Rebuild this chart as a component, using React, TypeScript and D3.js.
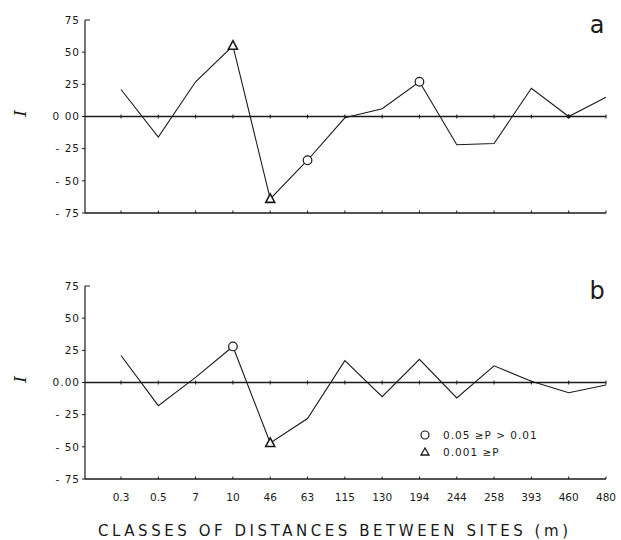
import * as d3 from "d3"

const classes = ["0.3", "0.5", "7", "10", "46", "63", "115", "130", "194", "244", "258", "393", "460", "480"]
const valuesA = [21, -16, 27, 55, -64, -34, -1, 6, 27, -22, -21, 22, 0, 15]
const valuesB = [21, -18, 4, 28, -47, -28, 17, -11, 18, -12, 13, 1, -8, -2]
const yTicks = [75, 50, 25, 0, -25, -50, -75]
const yLabelsA = ["75", "50", "25", "0 00", "- 25", "- 50", "- 75"]
const yLabelsB = ["75", "50", "25", "0.00", "- 25", "- 50", "- 75"]
// significance markers: class label -> kind
const marksA: [string, string][] = [["10", "tri"], ["46", "tri"], ["63", "circ"], ["194", "circ"], ["460", "dot"]]
const marksB: [string, string][] = [["10", "circ"], ["46", "tri"]]

const W = 621
const H = 540
const left = 85
const ink = "#1a1a1a"
const font = "'DejaVu Sans', sans-serif"

const x = d3.scalePoint<string>().domain(classes).range([121, 606]).padding(0)

function Panel({ top, bottom, values, labels, marks, letter }: {
  top: number
  bottom: number
  values: number[]
  labels: string[]
  marks: [string, string][]
  letter: string
}) {
  const y = d3.scaleLinear().domain([-75, 75]).range([bottom, top])
  const line = d3
    .line<number>()
    .x((_, i) => x(classes[i]) as number)
    .y((d) => y(d))
  const right = x(classes[classes.length - 1]) as number
  const tri = (cx: number, cy: number) => `M${cx},${cy - 5}L${cx + 4.5},${cy + 3.5}L${cx - 4.5},${cy + 3.5}Z`

  return (
    <g>
      {/* y axis */}
      <line x1={left} x2={left} y1={y(75)} y2={y(-75)} stroke={ink} strokeWidth={1.2} />
      {yTicks.map((t, i) => (
        <g key={t}>
          <line x1={t === 75 ? left : left - 3} x2={t === 75 ? left + 5 : left} y1={y(t)} y2={y(t)} stroke={ink} strokeWidth={1} />
          <text x={80} y={y(t)} dy="0.35em" textAnchor="end" fontSize={10.5} fontFamily={font} letterSpacing={1} fill={ink}>
            {labels[i]}
          </text>
        </g>
      ))}
      {/* zero line */}
      <line x1={left} x2={right} y1={y(0)} y2={y(0)} stroke={ink} strokeWidth={1.4} />
      {/* bottom line */}
      <line x1={left} x2={right} y1={y(-75)} y2={y(-75)} stroke={ink} strokeWidth={1.5} />
      {classes.map((c) => (
        <g key={c}>
          <line x1={x(c)} x2={x(c)} y1={y(0) - 2} y2={y(0) + 2} stroke={ink} strokeWidth={1} />
          <line x1={x(c)} x2={x(c)} y1={y(-75) - 2.5} y2={y(-75)} stroke={ink} strokeWidth={1} />
        </g>
      ))}
      {/* series */}
      <path d={line(values) ?? ""} fill="none" stroke={ink} strokeWidth={1.1} />
      {marks.map(([c, kind]) => {
        const cx = x(c) as number
        const cy = y(values[classes.indexOf(c)])
        if (kind === "circ") return <circle key={c} cx={cx} cy={cy} r={4.3} fill="white" stroke={ink} strokeWidth={1.2} />
        if (kind === "tri") return <path key={c} d={tri(cx, cy)} fill="white" stroke={ink} strokeWidth={1.6} />
        return <circle key={c} cx={cx} cy={cy} r={2} fill={ink} />
      })}
      {/* I label */}
      <text
        transform={`translate(20,${y(0) - 3}) rotate(-90)`}
        textAnchor="middle"
        dy="0.35em"
        fontSize={17}
        fontStyle="italic"
        fontFamily="'DejaVu Serif', serif"
        fill={ink}
      >
        I
      </text>
      <text x={597} y={y(75) + 13} textAnchor="middle" fontSize={24} fontFamily={font} fill={ink}>
        {letter}
      </text>
    </g>
  )
}

export default function App() {
  return (
    <svg width={W} height={H} style={{ position: "absolute", left: 0, top: 0, background: "white" }}>
      <rect width={W} height={H} fill="white" />
      <Panel top={20} bottom={213} values={valuesA} labels={yLabelsA} marks={marksA} letter="a" />
      <Panel top={286} bottom={479} values={valuesB} labels={yLabelsB} marks={marksB} letter="b" />
      {/* legend */}
      <circle cx={425} cy={435} r={4} fill="white" stroke={ink} strokeWidth={1.2} />
      <text x={443} y={435} dy="0.35em" fontSize={10.5} fontFamily={font} letterSpacing={1} fill={ink}>
        0.05 ≥P &gt; 0.01
      </text>
      <path d="M425,448L429,455L421,455Z" fill="white" stroke={ink} strokeWidth={1.3} />
      <text x={443} y={452} dy="0.35em" fontSize={10.5} fontFamily={font} letterSpacing={1} fill={ink}>
        0.001 ≥P
      </text>
      {/* x labels */}
      {classes.map((c) => (
        <text key={c} x={x(c)} y={497} dy="0.35em" textAnchor="middle" fontSize={10.5} fontFamily={font} fill={ink}>
          {c}
        </text>
      ))}
      <text x={98} y={536} textLength={470} lengthAdjust="spacing" fontSize={15} fontFamily={font} fill={ink}>
        CLASSES OF DISTANCES BETWEEN SITES (m)
      </text>
    </svg>
  )
}
